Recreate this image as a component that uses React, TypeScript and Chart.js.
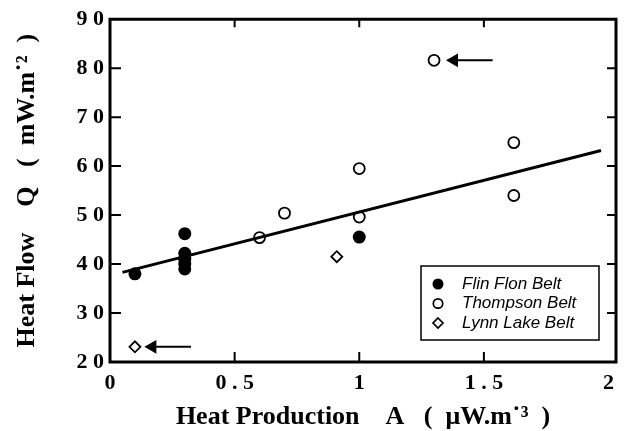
import React, { useEffect, useRef } from "react";
import { Chart, registerables } from "chart.js";

Chart.register(...registerables);

// ---- data ----
const FLIN_FLON_A = [0.1, 0.3, 0.3, 0.3, 0.3, 0.3, 1.0];
const FLIN_FLON_Q = [38.0, 46.2, 42.2, 41.0, 40.0, 39.0, 45.5];

const THOMPSON_A = [0.6, 0.7, 1.0, 1.0, 1.3, 1.62, 1.62];
const THOMPSON_Q = [45.4, 50.4, 59.5, 49.6, 81.6, 64.8, 54.0];

const LYNN_LAKE_A = [0.1, 0.91];
const LYNN_LAKE_Q = [23.1, 41.5];

const FIT_A = [0.05, 1.97];
const FIT_Q = [38.3, 63.2];

// arrows (head, tail)
const ARROW1_A = [1.38, 1.535];
const ARROW1_Q = [81.6, 81.6];
const ARROW2_A = [0.17, 0.325];
const ARROW2_Q = [23.1, 23.1];

const X_TICKS = [0, 0.5, 1, 1.5, 2];
const X_TICK_LABELS = ["0", "0 . 5", "1", "1 . 5", "2"];
const Y_TICKS = [20, 30, 40, 50, 60, 70, 80, 90];
const Y_TICK_LABELS = ["2 0", "3 0", "4 0", "5 0", "6 0", "7 0", "8 0", "9 0"];

const X_TITLE = "Heat Production    A   (  \u03bcW.m\u02d9\u00b3  )";
const Y_TITLE = "Heat Flow    Q   (  mW.m\u02d9\u00b2  )";

const LEGEND_LABELS = ["Flin Flon Belt", "Thompson Belt", "Lynn Lake Belt"];

const zip = (xs: number[], ys: number[]) => xs.map((x, i) => ({ x, y: ys[i] }));

const framePlugin = {
  id: "frame",
  afterDatasetsDraw(chart: any) {
    const { ctx, chartArea } = chart;
    const { left, right, top, bottom } = chartArea;
    const xs = chart.scales.x;
    const ys = chart.scales.y;
    ctx.save();
    ctx.strokeStyle = "#000";
    ctx.lineWidth = 3;
    ctx.beginPath();
    ctx.rect(left, top, right - left, bottom - top);
    ctx.stroke();
    ctx.lineWidth = 2;
    ctx.beginPath();
    X_TICKS.forEach((v, i) => {
      if (i === 0 || i === X_TICKS.length - 1) return;
      const px = xs.getPixelForValue(v);
      ctx.moveTo(px, bottom);
      ctx.lineTo(px, bottom - 10);
      ctx.moveTo(px, top);
      ctx.lineTo(px, top + 8);
    });
    Y_TICKS.forEach((v, i) => {
      if (i === 0 || i === Y_TICKS.length - 1) return;
      const py = ys.getPixelForValue(v);
      ctx.moveTo(left, py);
      ctx.lineTo(left + 11, py);
      ctx.moveTo(right, py);
      ctx.lineTo(right - 9, py);
    });
    ctx.stroke();
    ctx.restore();
  },
};

const legendPlugin = {
  id: "boxLegend",
  afterDraw(chart: any) {
    const { ctx, chartArea } = chart;
    const bx = chartArea.right - 195;
    const by = chartArea.bottom - 96;
    const bw = 178;
    const bh = 74;
    ctx.save();
    ctx.fillStyle = "#fff";
    ctx.fillRect(bx, by, bw, bh);
    ctx.strokeStyle = "#000";
    ctx.lineWidth = 1.5;
    ctx.strokeRect(bx, by, bw, bh);
    ctx.font = "italic 17px 'Liberation Sans', Arial, sans-serif";
    ctx.textBaseline = "middle";
    ctx.textAlign = "left";
    LEGEND_LABELS.forEach((label, i) => {
      const cy = by + 18 + i * 19.5;
      const cx = bx + 17;
      ctx.beginPath();
      if (i === 0) {
        ctx.arc(cx, cy, 5.5, 0, Math.PI * 2);
        ctx.fillStyle = "#000";
        ctx.fill();
      } else if (i === 1) {
        ctx.arc(cx, cy, 4.7, 0, Math.PI * 2);
        ctx.lineWidth = 1.7;
        ctx.stroke();
      } else {
        ctx.moveTo(cx, cy - 5);
        ctx.lineTo(cx + 5, cy);
        ctx.lineTo(cx, cy + 5);
        ctx.lineTo(cx - 5, cy);
        ctx.closePath();
        ctx.lineWidth = 1.7;
        ctx.stroke();
      }
      ctx.fillStyle = "#000";
      ctx.fillText(label, bx + 41, cy);
    });
    ctx.restore();
  },
};

export default function App() {
  const ref = useRef<HTMLCanvasElement | null>(null);

  useEffect(() => {
    if (!ref.current) return;
    const tickFont = { family: "'Liberation Serif', 'Times New Roman', serif", size: 22, weight: "bold" as const };
    const titleFont = { family: "'Liberation Serif', 'Times New Roman', serif", size: 26, weight: "bold" as const, lineHeight: 1.0 };
    const chart = new Chart(ref.current, {
      type: "scatter",
      data: {
        datasets: [
          {
            label: "Fit",
            type: "line",
            data: zip(FIT_A, FIT_Q),
            borderColor: "#000",
            borderWidth: 3,
            pointRadius: 0,
            fill: false,
          } as any,
          {
            label: LEGEND_LABELS[0],
            data: zip(FLIN_FLON_A, FLIN_FLON_Q),
            pointStyle: "circle",
            pointRadius: 6.5,
            backgroundColor: "#000",
            borderColor: "#000",
            borderWidth: 0,
          },
          {
            label: LEGEND_LABELS[1],
            data: zip(THOMPSON_A, THOMPSON_Q),
            pointStyle: "circle",
            pointRadius: 5.5,
            backgroundColor: "#fff",
            borderColor: "#000",
            borderWidth: 1.8,
          },
          {
            label: LEGEND_LABELS[2],
            data: zip(LYNN_LAKE_A, LYNN_LAKE_Q),
            pointStyle: "rectRot",
            pointRadius: 5.5,
            backgroundColor: "#fff",
            borderColor: "#000",
            borderWidth: 1.8,
          },
          {
            label: "arrow1",
            type: "line",
            data: zip(ARROW1_A, ARROW1_Q),
            borderColor: "#000",
            borderWidth: 2,
            pointStyle: "triangle",
            pointRadius: [8, 0],
            pointRotation: 270,
            backgroundColor: "#000",
            pointBorderWidth: 0,
            fill: false,
          } as any,
          {
            label: "arrow2",
            type: "line",
            data: zip(ARROW2_A, ARROW2_Q),
            borderColor: "#000",
            borderWidth: 2,
            pointStyle: "triangle",
            pointRadius: [8, 0],
            pointRotation: 270,
            backgroundColor: "#000",
            pointBorderWidth: 0,
            fill: false,
          } as any,
        ],
      },
      options: {
        animation: false,
        responsive: true,
        maintainAspectRatio: false,
        layout: { padding: { top: 16, right: 6, left: 0, bottom: 0 } },
        plugins: {
          legend: { display: false },
          tooltip: { enabled: false },
        },
        scales: {
          x: {
            type: "linear",
            min: 0,
            max: 2.03,
            grid: { display: false, drawTicks: false },
            border: { display: false },
            afterBuildTicks: (s: any) => {
              s.ticks = X_TICKS.map((v) => ({ value: v }));
            },
            afterFit: (s: any) => {
              s.height = 69;
            },
            ticks: {
              color: "#000",
              font: tickFont,
              padding: 8,
              maxRotation: 0,
              autoSkip: false,
              callback: (v: any) => {
                const i = X_TICKS.indexOf(Number(v));
                return i >= 0 ? X_TICK_LABELS[i] : "";
              },
            },
            title: {
              display: true,
              text: X_TITLE,
              color: "#000",
              font: titleFont,
              padding: { top: 0, bottom: 1 },
            },
          },
          y: {
            type: "linear",
            min: 20,
            max: 90,
            grid: { display: false, drawTicks: false },
            border: { display: false },
            afterBuildTicks: (s: any) => {
              s.ticks = Y_TICKS.map((v) => ({ value: v }));
            },
            afterFit: (s: any) => {
              s.width = 110;
            },
            ticks: {
              color: "#000",
              font: tickFont,
              padding: 6,
              autoSkip: false,
              callback: (v: any) => {
                const i = Y_TICKS.indexOf(Number(v));
                return i >= 0 ? Y_TICK_LABELS[i] : "";
              },
            },
            title: {
              display: true,
              text: Y_TITLE,
              color: "#000",
              font: titleFont,
              padding: { top: 14, bottom: 0 },
            },
          },
        },
      },
      plugins: [framePlugin, legendPlugin],
    });
    return () => chart.destroy();
  }, []);

  return (
    <div style={{ position: "absolute", left: 0, top: 0, width: 624, height: 431, background: "#fff" }}>
      <canvas ref={ref} />
    </div>
  );
}
